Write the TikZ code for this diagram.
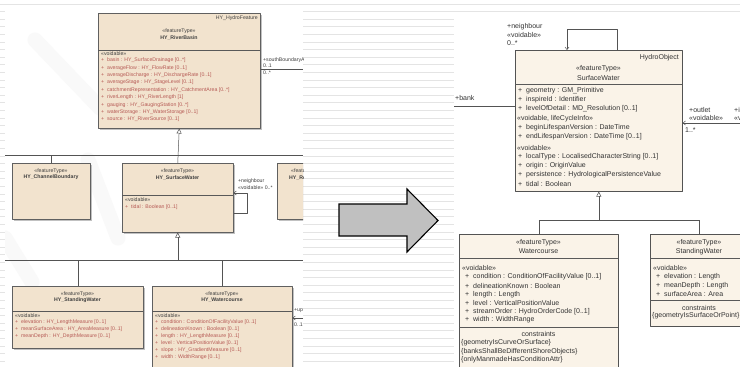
\documentclass[tikz,border=0pt]{standalone}
\usepackage{fontspec}
\setmainfont{Liberation Sans}
\usetikzlibrary{arrows.meta,shadows}
\definecolor{clsleft}{HTML}{F2E3CE}
\definecolor{clsright}{HTML}{FAF3E8}
\definecolor{attrred}{HTML}{B65A55}
\definecolor{rulegray}{HTML}{E4E4E4}
\definecolor{arrowgray}{HTML}{C0C0C0}
\tikzset{
  clsL/.style={draw=gray!75!black, fill=clsleft, line width=0.5pt, anchor=north west, inner sep=0pt,
    drop shadow={shadow xshift=1.3pt, shadow yshift=-1.3pt, fill=gray!60, opacity=0.8}},
  clsR/.style={draw=gray!65!black, fill=clsright, line width=0.6pt, anchor=north west, inner sep=0pt,
    drop shadow={shadow xshift=0.8pt, shadow yshift=-0.8pt, fill=gray!45, opacity=0.8}},
  txtL/.style={font=\fontsize{5.2}{6}\selectfont, text=black!75, inner sep=0pt},
  nameL/.style={txtL, font=\fontsize{5.2}{6}\bfseries},
  attL/.style={txtL, anchor=west, text=attrred},
  txtR/.style={font=\fontsize{7}{8}\selectfont, text=black!80, inner sep=0pt},
  attR/.style={txtR, anchor=west},
  sepline/.style={draw=gray!70!black, line width=0.4pt},
  gen/.style={-{Triangle[open, length=5pt, width=5pt]}, draw=gray!65!black, line width=0.5pt},
  assoc/.style={draw=gray!65!black, line width=0.5pt},
  nav/.style={assoc, -{Straight Barb[length=2.5pt, width=4pt]}},
  wmark/.style={draw=gray!5, line width=15pt, line cap=round},
}
\begin{document}
\begin{tikzpicture}[x=1pt, y=-1pt, line join=round, >=stealth]
\useasboundingbox (0,0) rectangle (740,367);
% lined background and the two white panels
\foreach \k in {0,...,47}
  \draw[rulegray, line width=0.9pt] (0,4+7.6*\k) -- (740,4+7.6*\k);
\fill[white] (5,10) rectangle (303,367);
\fill[white] (454,14) rectangle (740,367);

% ---------- left diagram ----------
\begin{scope}
\clip (5,10) rectangle (303,367);
\draw[wmark] (35,40) -- (100,108);
\draw[wmark] (88,160) -- (118,238);
\draw[wmark] (5,238) -- (32,282);

% top class
\node[clsL, minimum width=162pt, minimum height=115pt] (basin) at (98,13) {};
\node[txtL, anchor=north east] (basin-tag) at (258,16) {HY\_HydroFeature};
\node[txtL] (basin-st) at (179,31) {«featureType»};
\node[nameL] (basin-nm) at (179,38) {HY\_RiverBasin};
\draw[sepline] (98,50) -- (260,50);
\node[txtL, anchor=west] (basin-v) at (101,54) {«voidable»};
\foreach \t [count=\i] in {basin : HY\_SurfaceDrainage [0..*],
    averageFlow : HY\_FlowRate [0..1],
    averageDischarge : HY\_DischargeRate [0..1],
    averageStage : HY\_StageLevel [0..1],
    catchmentRepresentation : HY\_CatchmentArea [0..*],
    riverLength : HY\_RiverLength [1],
    gauging : HY\_GaugingStation [0..*],
    waterStorage : HY\_WaterStorage [0..1],
    source : HY\_RiverSource [0..1]}
  \node[attL] (basin-a\i) at (101,53+7.4*\i) {+\ \ \t};
\coordinate (basin-out) at (303,69);
\draw[assoc] (basin.east |- basin-out) -- (basin-out);
\node[txtL, anchor=west] (basin-r1) at (263,60) {+southBoundaryArea};
\node[txtL, anchor=west] (basin-r2) at (263,66) {0..1};
\node[txtL, anchor=west] (basin-r3) at (263,73) {0..*};

% middle row
\node[clsL, minimum width=78pt, minimum height=56pt] (chan) at (12,163) {};
\node[txtL] (chan-st) at (51,171) {«featureType»};
\node[nameL] (chan-nm) at (51,177.5) {HY\_ChannelBoundary};

\node[clsL, minimum width=111pt, minimum height=69pt] (sfc) at (122,163) {};
\node[txtL] (sfc-st) at (177.5,171) {«featureType»};
\node[nameL] (sfc-nm) at (177.5,177.5) {HY\_SurfaceWater};
\draw[sepline] (122,195) -- (233,195);
\node[txtL, anchor=west] (sfc-v) at (125,200) {«voidable»};
\node[attL] (sfc-a1) at (125,207) {+\ \ tidal : Boolean [0..1]};

\node[clsL, minimum width=60pt, minimum height=56pt] (part) at (277,163) {};
\node[txtL, anchor=west] (part-st) at (291,171) {«featureType»};
\node[nameL, anchor=west] (part-nm) at (289,177.5) {HY\_Reservoir};

% self association
\coordinate (sfc-l1) at (247,193);
\coordinate (sfc-l2) at (247,213);
\draw[nav] (sfc.east |- sfc-l2) -- (sfc-l2) -- (sfc-l1) -- (sfc.east |- sfc-l1);
\node[txtL, anchor=west] (sfc-r1) at (238,181) {+neighbour};
\node[txtL, anchor=west] (sfc-r2) at (238,188) {«voidable» 0..*};

% upper generalisation
\coordinate (busA-l) at (5,155);
\coordinate (busA-r) at (303,155);
\draw[assoc] (busA-l) -- (busA-r);
\draw[gen] (sfc.north) -- (basin.south);
\draw[assoc] (chan.north) -- (chan.north |- busA-l);
\draw[assoc] (part.north) -- (part.north |- busA-l);

% bottom row
\node[clsL, minimum width=131pt, minimum height=62pt] (stand) at (12,286) {};
\node[txtL] (stand-st) at (77.5,294) {«featureType»};
\node[nameL] (stand-nm) at (77.5,300.5) {HY\_StandingWater};
\draw[sepline] (12,311) -- (143,311);
\node[txtL, anchor=west] (stand-v) at (15,315.5) {«voidable»};
\foreach \t [count=\i] in {elevation : HY\_LengthMeasure [0..1],
    meanSurfaceArea : HY\_AreaMeasure [0..1],
    meanDepth : HY\_DepthMeasure [0..1]}
  \node[attL] (stand-a\i) at (15,315+7*\i) {+\ \ \t};

\node[clsL, minimum width=140pt, minimum height=90pt] (water) at (152,286) {};
\node[txtL] (water-st) at (222,294) {«featureType»};
\node[nameL] (water-nm) at (222,300.5) {HY\_Watercourse};
\draw[sepline] (152,311) -- (292,311);
\node[txtL, anchor=west] (water-v) at (155,315.5) {«voidable»};
\foreach \t [count=\i] in {condition : ConditionOfFacilityValue [0..1],
    delineationKnown : Boolean [0..1],
    length : HY\_LengthMeasure [0..1],
    level : VerticalPositionValue [0..1],
    slope : HY\_GradientMeasure [0..1],
    width : WidthRange [0..1]}
  \node[attL] (water-a\i) at (155,315+7*\i) {+\ \ \t};
\coordinate (water-out) at (303,318);
\draw[nav] (water-out) -- (water.east |- water-out);
\node[txtL, anchor=west] (water-r1) at (294,311) {+up};
\node[txtL, anchor=west] (water-r2) at (294,325) {0..1};

% lower generalisation
\coordinate (busB-l) at (5,260);
\coordinate (busB-r) at (303,260);
\draw[assoc] (busB-l) -- (busB-r);
\draw[gen] (sfc.south |- busB-l) -- (sfc.south);
\draw[assoc] (stand.north) -- (stand.north |- busB-l);
\draw[assoc] (water.north) -- (water.north |- busB-l);
\end{scope}

% ---------- block arrow ----------
\draw[fill=arrowgray, line width=1.1pt, line join=miter]
  (339,204) -- (407,204) -- (407,189) -- (438,220.5) -- (407,252) -- (407,236) -- (339,236) -- cycle;

% ---------- right diagram ----------
\begin{scope}
\clip (454,14) rectangle (740,367);
\node[clsR, minimum width=167pt, minimum height=141pt] (sw) at (515,50) {};
\node[txtR, anchor=north east] (sw-tag) at (679,54) {HydroObject};
\node[txtR] (sw-st) at (598.5,69) {«featureType»};
\node[txtR] (sw-nm) at (598.5,77.5) {SurfaceWater};
\draw[sepline] (515,84) -- (682,84);
\foreach \t/\yy [count=\i] in {geometry : GM\_Primitive/91, inspireId : Identifier/100,
    levelOfDetail : MD\_Resolution [0..1]/109,
    beginLifespanVersion : DateTime/128, endLifespanVersion : DateTime [0..1]/137,
    localType : LocalisedCharacterString [0..1]/157, origin : OriginValue/166,
    persistence : HydrologicalPersistenceValue/175, tidal : Boolean/183.5}
  \node[attR] (sw-a\i) at (518,\yy) {+\ \ \t};
\node[attR] (sw-g1) at (517,119) {«voidable, lifeCycleInfo»};
\node[attR] (sw-g2) at (517,147.5) {«voidable»};

% self association on top
\coordinate (sw-l1) at (567,29);
\coordinate (sw-l2) at (617,29);
\draw[nav] (sw.north -| sw-l2) -- (sw-l2) -- (sw-l1) -- (sw.north -| sw-l1);
\node[txtR, anchor=west] (sw-t1) at (507,27) {+neighbour};
\node[txtR, anchor=west] (sw-t2) at (507,35) {«voidable»};
\node[txtR, anchor=west] (sw-t3) at (507,43) {0..*};

% left and right associations
\coordinate (sw-in) at (454,106);
\draw[assoc] (sw-in) -- (sw.west |- sw-in);
\node[txtR, anchor=west] (sw-in-r) at (455,98) {+bank};
\coordinate (sw-out) at (740,123);
\draw[nav] (sw-out) -- (sw.east |- sw-out);
\node[txtR, anchor=west] (sw-o1) at (689,110) {+outlet};
\node[txtR, anchor=west] (sw-o2) at (689,118) {«voidable»};
\node[txtR, anchor=west] (sw-o3) at (685,130) {1..*};
\node[txtR, anchor=west] (sw-o4) at (734,110) {+inlet};
\node[txtR, anchor=west] (sw-o5) at (734,118) {«voidable»};

% subclasses
\node[clsR, minimum width=159pt, minimum height=140pt] (wc) at (459,234) {};
\node[txtR] (wc-st) at (538.5,243) {«featureType»};
\node[txtR] (wc-nm) at (538.5,251.5) {Watercourse};
\draw[sepline] (459,258) -- (618,258);
\node[attR] (wc-v) at (462,268) {«voidable»};
\foreach \t [count=\i] in {condition : ConditionOfFacilityValue [0..1],
    delineationKnown : Boolean, length : Length, level : VerticalPositionValue,
    streamOrder : HydroOrderCode [0..1], width : WidthRange}
  \node[attR] (wc-a\i) at (465,268.5+8.6*\i) {+\ \ \t};
\draw[sepline] (459,327) -- (618,327);
\node[txtR] (wc-c) at (538.5,334) {constraints};
\foreach \t [count=\i] in {\{geometryIsCurveOrSurface\},
    \{banksShallBeDifferentShoreObjects\}, \{onlyManmadeHasConditionAttr\}}
  \node[attR] (wc-c\i) at (461,334+8.6*\i) {\t};

\node[clsR, minimum width=98pt, minimum height=92pt] (st) at (650,234) {};
\node[txtR] (st-st) at (699,243) {«featureType»};
\node[txtR] (st-nm) at (699,251.5) {StandingWater};
\draw[sepline] (650,258) -- (748,258);
\node[attR] (st-v) at (653,268) {«voidable»};
\foreach \t [count=\i] in {elevation : Length, meanDepth : Length, surfaceArea : Area}
  \node[attR] (st-a\i) at (656,268.5+8.6*\i) {+\ \ \t};
\draw[sepline] (650,300) -- (748,300);
\node[txtR] (st-c) at (699,307.5) {constraints};
\node[attR] (st-c1) at (652,316) {\{geometryIsSurfaceOrPoint\}};

% generalisation
\coordinate (bus-l) at (wc.north |- 0,220);
\coordinate (bus-r) at (st.north |- 0,220);
\draw[assoc] (bus-l) -- (bus-r);
\draw[assoc] (wc.north) -- (bus-l);
\draw[assoc] (st.north) -- (bus-r);
\draw[gen] (sw.south |- bus-l) -- (sw.south);
\end{scope}
\end{tikzpicture}
\end{document}
